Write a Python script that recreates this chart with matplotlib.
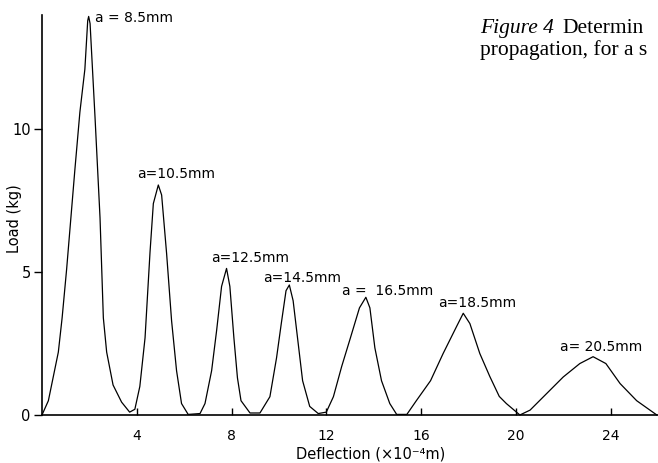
import matplotlib.pyplot as plt

deflection = [0.0, 0.27, 0.69, 0.85, 1.04, 1.39, 1.6, 1.81, 1.93, 1.97, 2.03, 2.24, 2.45,
              2.59, 2.73, 3.0, 3.36, 3.7, 3.92, 4.13, 4.35, 4.56, 4.7, 4.91, 5.05, 5.26,
              5.47, 5.68, 5.89, 6.17, 6.67, 6.88, 7.16, 7.37, 7.58, 7.79, 7.93, 8.1,
              8.25, 8.4, 8.78, 9.2, 9.62, 9.9, 10.1, 10.3, 10.44, 10.6, 10.8, 11.0,
              11.3, 11.66, 12.0, 12.3, 12.65, 13.0, 13.4, 13.67, 13.84, 14.05, 14.33,
              14.68, 14.97, 15.4, 15.8, 16.4, 16.93, 17.5, 17.78, 18.06, 18.48, 18.9,
              19.3, 19.6, 20.17, 20.6, 21.3, 22.0, 22.7, 23.26, 23.8, 24.4, 25.1, 25.95]
load = [0.0, 0.5, 2.2, 3.4, 5.1, 8.6, 10.6, 12.1, 13.8, 13.95, 13.7, 10.4, 6.9,
        3.4, 2.2, 1.05, 0.45, 0.1, 0.2, 1.0, 2.7, 5.7, 7.4, 8.05, 7.7, 5.65,
        3.3, 1.55, 0.4, 0.02, 0.05, 0.4, 1.55, 2.95, 4.5, 5.13, 4.5, 2.7,
        1.3, 0.5, 0.07, 0.07, 0.64, 2.0, 3.2, 4.35, 4.55, 4.0, 2.6, 1.2,
        0.3, 0.05, 0.1, 0.64, 1.7, 2.65, 3.75, 4.12, 3.75, 2.35, 1.2,
        0.4, 0.02, 0.02, 0.5, 1.2, 2.15, 3.1, 3.56, 3.2, 2.15, 1.35,
        0.65, 0.4, 0.0, 0.17, 0.75, 1.33, 1.8, 2.04, 1.8, 1.1, 0.5, 0.0]

# crack length annotations (text, x, y) in data units
crack_labels = ["a = 8.5mm", "a=10.5mm", "a=12.5mm", "a=14.5mm",
                "a =  16.5mm", "a=18.5mm", "a= 20.5mm"]
label_x = [2.24, 4.0, 7.16, 9.33, 12.66, 16.7, 21.86]
label_y = [13.9, 8.45, 5.5, 4.8, 4.35, 3.92, 2.38]

x_ticks = [4, 8, 12, 16, 20, 24]
y_ticks = [0, 5, 10]

fig = plt.figure(figsize=(6.58, 4.63), dpi=100)
ax = fig.add_axes([0.0638, 0.1037, 0.9362, 0.8639])

ax.plot(deflection, load, color="black", linewidth=0.9, clip_on=False)

for txt, lx, ly in zip(crack_labels, label_x, label_y):
    ax.text(lx, ly, txt, fontsize=10, ha="left", va="center")

ax.set_xlim(0, 26.0)
ax.set_ylim(0, 14.0)
ax.set_xticks(x_ticks)
ax.set_yticks(y_ticks)
ax.tick_params(axis="x", direction="in", length=5, width=1, labelsize=10, pad=10)
ax.tick_params(axis="y", direction="out", length=6, width=1, labelsize=10.5, pad=2)

for side in ["top", "right"]:
    ax.spines[side].set_visible(False)
for side in ["left", "bottom"]:
    ax.spines[side].set_linewidth(1.2)

ax.set_xlabel("Deflection (×10⁻⁴m)", fontsize=10.5)
ax.xaxis.set_label_coords(0.534, -0.0975)
ax.xaxis.label.set_va("center")
ax.set_ylabel("Load (kg)", fontsize=10.5)
ax.yaxis.set_label_coords(-0.044, 0.49)
ax.yaxis.label.set_va("center")

# caption fragment in the top right corner
fig.text(480 / 658, 1 - 33 / 463, "Figure 4", fontsize=15.5, style="italic",
         family="Liberation Serif", va="baseline")
fig.text(562 / 658, 1 - 33 / 463, "Determin", fontsize=15.5,
         family="Liberation Serif", va="baseline")
fig.text(480 / 658, 1 - 55 / 463, "propagation, for a s", fontsize=15.5,
         family="Liberation Serif", va="baseline")

fig.savefig("out.png", dpi=100)
